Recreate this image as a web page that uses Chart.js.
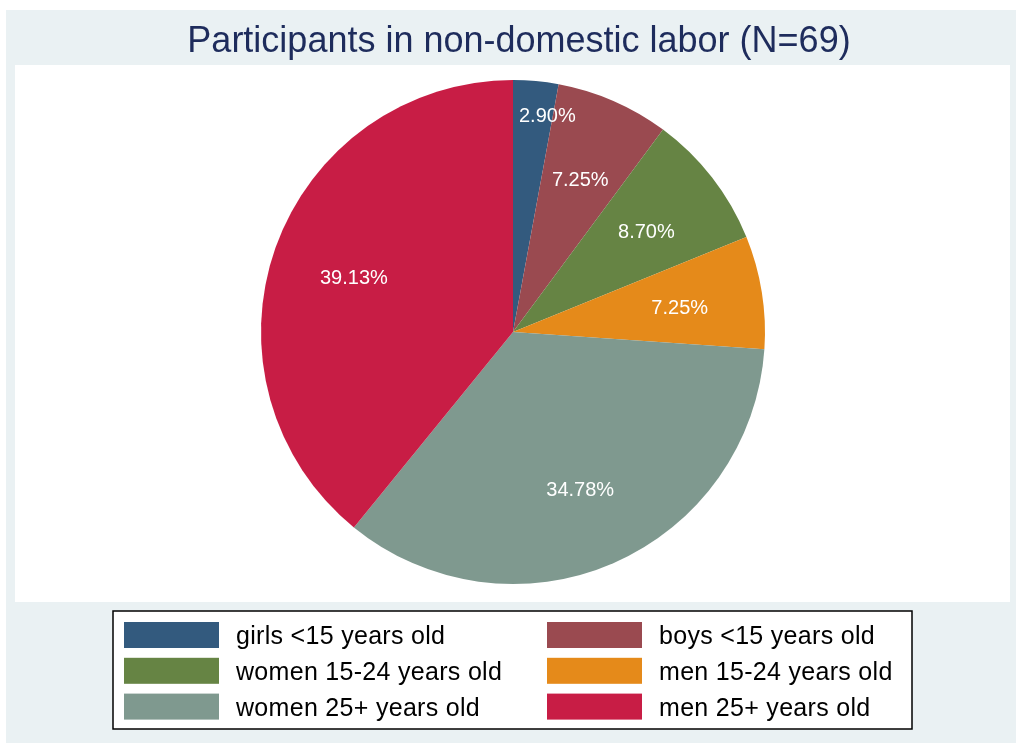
<!DOCTYPE html>
<html>
<head>
<meta charset="utf-8">
<title>Participants in non-domestic labor</title>
<script src="https://cdn.jsdelivr.net/npm/chart.js@4.4.1/dist/chart.umd.min.js"></script>
<style>
  html, body { margin: 0; padding: 0; background: #ffffff; }
  canvas { display: block; }
</style>
</head>
<body>
<canvas id="laborPie" width="1016" height="743"></canvas>
<script>
// data
const chartTitle = 'Participants in non-domestic labor (N=69)';
const categories = [
    'girls <15 years old',
    'boys <15 years old',
    'women 15-24 years old',
    'men 15-24 years old',
    'women 25+ years old',
    'men 25+ years old'
];
const sharePercent = [2.90, 7.25, 8.70, 7.25, 34.78, 39.13];
const sliceColors = ['#335A7E', '#9A4A50', '#668444', '#E58A1A', '#7F998F', '#C81D45'];

const FONT = '"Liberation Sans", Arial, Helvetica, sans-serif';

document.addEventListener('DOMContentLoaded', function() {
    const ctx = document.getElementById('laborPie');

    // Background, plot region and title
    const framePlugin = {
        id: 'frame',
        beforeDraw(chart) {
            const c = chart.ctx;
            c.save();
            c.fillStyle = '#ffffff';
            c.fillRect(0, 0, chart.width, chart.height);
            c.fillStyle = '#EAF1F3';
            c.fillRect(6, 10, chart.width - 6, chart.height - 10);
            c.fillStyle = '#ffffff';
            c.fillRect(15, 65, 995, 537);
            c.fillStyle = '#1E2C5C';
            c.font = '36px ' + FONT;
            c.textAlign = 'center';
            c.textBaseline = 'alphabetic';
            c.fillText(chartTitle, 519, 52);
            c.restore();
        }
    };

    // Percent labels inside the slices
    const sliceLabelPlugin = {
        id: 'sliceLabels',
        afterDatasetsDraw(chart) {
            const c = chart.ctx;
            const meta = chart.getDatasetMeta(0);
            c.save();
            c.fillStyle = '#ffffff';
            c.font = '20px ' + FONT;
            c.textBaseline = 'alphabetic';
            meta.data.forEach(function(arc, i) {
                const p = arc.getProps(['x', 'y', 'startAngle', 'endAngle', 'outerRadius'], true);
                const text = sharePercent[i].toFixed(2) + '%';
                let tx, ty;
                if (sharePercent[i] < 5) {
                    // narrow slice: push out and start just past the slice edge
                    const r = p.outerRadius * 0.87;
                    c.textAlign = 'left';
                    tx = p.x + Math.cos(p.startAngle) * r + 6;
                    ty = p.y + Math.sin(p.startAngle) * r;
                } else {
                    const mid = (p.startAngle + p.endAngle) / 2;
                    const r = p.outerRadius * 0.67;
                    c.textAlign = 'center';
                    tx = p.x + Math.cos(mid) * r;
                    ty = p.y + Math.sin(mid) * r;
                }
                c.fillText(text, tx, ty + 9);
            });
            c.restore();
        }
    };

    // Boxed two-column legend under the pie
    const boxLegendPlugin = {
        id: 'boxLegend',
        afterDraw(chart) {
            const c = chart.ctx;
            const labels = chart.data.labels;
            const colors = chart.data.datasets[0].backgroundColor;
            c.save();
            c.fillStyle = '#ffffff';
            c.fillRect(113, 611, 799, 118);
            c.strokeStyle = '#000000';
            c.lineWidth = 1.5;
            c.strokeRect(113, 611, 799, 118);
            c.font = '25px ' + FONT;
            c.letterSpacing = '0.3px';
            c.textAlign = 'left';
            c.textBaseline = 'alphabetic';
            labels.forEach(function(label, i) {
                const col = i % 2;
                const row = Math.floor(i / 2);
                const sx = col === 0 ? 124 : 547;
                const sy = 622 + row * 35.8;
                c.fillStyle = colors[i];
                c.fillRect(sx, sy, 95, 26);
                c.fillStyle = '#000000';
                c.fillText(label, sx + 112, sy + 22);
            });
            c.restore();
        }
    };

    new Chart(ctx, {
        type: 'pie',
        data: {
            labels: categories,
            datasets: [{
                data: sharePercent,
                backgroundColor: sliceColors,
                borderWidth: 0,
                hoverOffset: 0
            }]
        },
        options: {
            responsive: false,
            animation: false,
            events: [],
            layout: {
                padding: { top: 80, bottom: 159, left: 261, right: 251 }
            },
            plugins: {
                legend: { display: false },
                title: { display: false },
                tooltip: { enabled: false }
            }
        },
        plugins: [framePlugin, sliceLabelPlugin, boxLegendPlugin]
    });
});
</script>
</body>
</html>
